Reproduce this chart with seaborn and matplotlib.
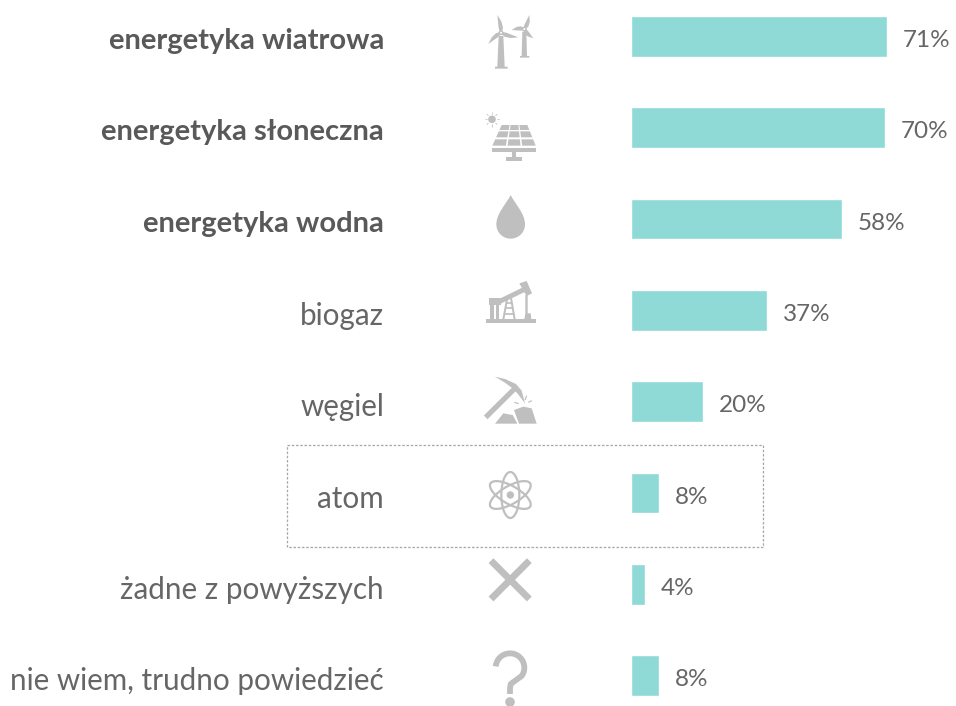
import numpy as np
import pandas as pd
import seaborn as sns
import matplotlib
matplotlib.use("Agg")
import matplotlib.pyplot as plt
from matplotlib.patches import Polygon, Circle, Ellipse, Rectangle, PathPatch
from matplotlib.path import Path
from matplotlib.transforms import ScaledTranslation

sources = ["energetyka wiatrowa", "energetyka słoneczna", "energetyka wodna", "biogaz",
           "węgiel", "atom", "żadne z powyższych", "nie wiem, trudno powiedzieć"]
values = [70.7, 70.2, 58.3, 37.6, 19.9, 7.7, 3.9, 7.7]
value_labels = ["71%", "70%", "58%", "37%", "20%", "8%", "4%", "8%"]
bold_count = 3

BAR = "#8fd9d6"
TXT = "#595959"
TXT_LIGHT = "#666666"
ICON = "#bfbfbf"

sns.set_theme(style="white")
plt.rcParams["font.family"] = ["Lato", "Open Sans", "DejaVu Sans"]

W, H = 956, 706
fig = plt.figure(figsize=(W / 100, H / 100), dpi=100, facecolor="white")
PX = 3.62
LEFT = 631.0
ax = fig.add_axes([LEFT / W, 0, (W - LEFT) / W, 1])
df = pd.DataFrame({"source": sources, "value": values})
sns.barplot(data=df, x="value", y="source", color=BAR, saturation=1, width=0.445, ax=ax)
ax.set_xlim(0, (W - LEFT) / PX)
ax.set_ylim((H - 36.5) / 91.3, -36.5 / 91.3)
ax.set_xlabel(""); ax.set_ylabel(""); ax.set_xticks([])
sns.despine(ax=ax, left=True, bottom=True, top=True, right=True)
ax.tick_params(axis="y", length=0, pad=(LEFT - 384) * 0.72)
ax.patch.set_alpha(0)
for i, lab in enumerate(ax.get_yticklabels()):
    lab.set_fontsize(21 if i < bold_count else 21.3)
    lab.set_color(TXT if i < bold_count else TXT_LIGHT)
    lab.set_fontweight("bold" if i < bold_count else "normal")
    lab.set_va("center")
    dy = 3.2 if i < bold_count else 4.0
    lab.set_transform(lab.get_transform() + ScaledTranslation(0, -dy / 72, fig.dpi_scale_trans))
for t in ax.bar_label(ax.containers[0], labels=value_labels, padding=11.5,
                      fontsize=17.5, color=TXT_LIGHT, fontweight="normal"):
    t.xyann = (t.xyann[0], t.xyann[1] - 3)

ov = fig.add_axes([0, 0, 1, 1], zorder=5)
ov.set_xlim(0, W); ov.set_ylim(H, 0); ov.axis("off"); ov.patch.set_alpha(0)

ov.add_patch(Rectangle((287, 445), 476, 102, fill=False, ec="#a6a6a6", lw=0.9, ls=(0, (2, 1.4))))

def Z1(p): return (470 + p[0] / 3, p[1] / 3)
def Z2(p): return (470 + p[0] / 3, 360 + p[1] / 3)
def poly(Z, pts): ov.add_patch(Polygon([Z(p) for p in pts], closed=True, fc=ICON, ec="none"))
def line(Z, pts, lw, cap="butt"):
    a = np.array([Z(p) for p in pts])
    ov.plot(a[:, 0], a[:, 1], color=ICON, lw=lw * 0.72, solid_capstyle=cap)

# wind turbines
def turbine(hub, blades, tower):
    poly(Z1, tower)
    for b in blades:
        v = np.array(b) - np.array(hub); n = np.array([-v[1], v[0]]) / np.hypot(*v)
        h = np.array(hub)
        poly(Z1, [h + n * 3, h + v * .25 + n * 9, h + v * .6 + n * 8, tuple(b), h + v * .3 - n * 4, h - n * 3])
    ov.add_patch(Circle(Z1(hub), 1.7, fc="white", ec=ICON, lw=1))
turbine((163, 87), [(178, 45), (125, 90), (190, 115)], [(157, 95), (169, 95), (171, 168), (178, 168), (178, 173), (150, 173), (150, 168), (155, 168)])
turbine((93, 98), [(82, 45), (55, 132), (145, 112)], [(86, 108), (100, 108), (104, 200), (113, 200), (113, 206), (75, 206), (75, 200), (82, 200)])

# solar panel
ov.add_patch(Circle(Z1((66, 358)), 3.8, fc=ICON, ec="none"))
for a in np.arange(0, 360, 45):
    c, s = np.cos(np.radians(a)), np.sin(np.radians(a))
    line(Z1, [(66 + 15 * c, 358 + 15 * s), (66 + 22 * c, 358 + 22 * s)], 0.8)
rows = [(375, 390), (394, 412), (418, 437)]
def edge(y, t):
    l = 95 + (67 - 95) * (y - 375) / 62; r = 172 + (197 - 172) * (y - 375) / 62
    return l + (r - l) * t
for y0, y1 in rows:
    for t0, t1 in [(0, .31), (.35, .65), (.69, 1)]:
        poly(Z1, [(edge(y0, t0), y0), (edge(y0, t1), y0), (edge(y1, t1), y1), (edge(y1, t0), y1)])
poly(Z1, [(65, 445), (198, 445), (198, 456), (65, 456)])
poly(Z1, [(127, 456), (137, 456), (137, 472), (127, 472)])
poly(Z1, [(108, 472), (157, 472), (157, 483), (108, 483)])

# water drop
cx, cy, r = 122, 673, 43
pts = [(cx, 585), (cx + 12, 610), (cx + r, 640), (cx + r, cy),
       (cx + r, cy + 24), (cx + 24, cy + r), (cx, cy + r),
       (cx - 24, cy + r), (cx - r, cy + 24), (cx - r, cy),
       (cx - r, 640), (cx - 12, 610), (cx, 585)]
ov.add_patch(PathPatch(Path([Z1(p) for p in pts],
                            [Path.MOVETO] + [Path.CURVE4] * 12), fc=ICON, ec="none"))

# pump jack
poly(Z1, [(48, 958), (198, 958), (198, 969), (48, 969)])
poly(Z1, [(57, 895), (92, 895), (92, 915), (57, 915)])
for x in (60, 77):
    poly(Z1, [(x, 915), (x + 11, 915), (x + 11, 958), (x, 958)])
poly(Z1, [(85, 898), (163, 860), (168, 874), (90, 912)])
poly(Z1, [(148, 850), (170, 843), (186, 880), (170, 888), (160, 872)])
poly(Z1, [(166, 885), (173, 885), (173, 940), (182, 940), (184, 958), (163, 958), (166, 940)])
line(Z1, [(112, 893), (100, 958)], 2); line(Z1, [(122, 888), (134, 958)], 2)
for y, a, b in [(908, 108, 126), (925, 105, 129), (942, 103, 132)]:
    line(Z1, [(a, y), (b, y)], 1.7)

# pickaxe
line(Z2, [(47, 172), (137, 83)], 5.2)
poly(Z2, [(75, 50), (105, 57), (138, 72), (155, 92), (165, 130), (143, 101), (125, 83), (105, 68)])
poly(Z2, [(75, 191), (100, 160), (128, 165), (142, 191)])
poly(Z2, [(147, 191), (132, 150), (160, 140), (185, 145), (200, 191)])
for a in [[(133, 127), (146, 131)], [(165, 120), (170, 107)], [(175, 127), (186, 122)]]:
    line(Z2, a, 1.2)

# atom
c = Z2((121, 405))
ov.add_patch(Circle(c, 3.7, fc=ICON, ec="none"))
for ang in (90, 30, -30):
    ov.add_patch(Ellipse(c, 46, 18, angle=ang, fill=False, ec=ICON, lw=1.6))

# cross
line(Z2, [(63, 602), (178, 717)], 6.8)
line(Z2, [(178, 602), (63, 717)], 6.8)

# question mark
t = np.radians(np.linspace(185, 395, 30))
arc = [(120 + 43 * np.cos(a), 923 + 43 * np.sin(a)) for a in t]
line(Z2, arc + [(122, 972), (120, 985), (120, 1002)], 5.8)
ov.add_patch(Circle(Z2((120, 1026)), 4.8, fc=ICON, ec="none"))

fig.savefig("out.png", dpi=100, facecolor="white")
